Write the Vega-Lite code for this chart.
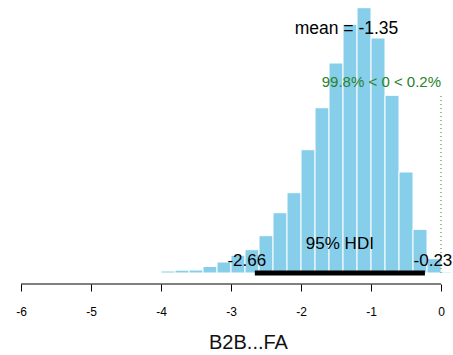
{
  "$schema": "https://vega.github.io/schema/vega-lite/v6.json",
  "width": 453,
  "height": 272,
  "padding": {"left": 0, "top": 1, "right": 0, "bottom": 0},
  "background": "white",
  "config": {
    "view": {"stroke": null},
    "font": "Liberation Sans",
    "text": {"font": "Liberation Sans"}
  },
  "datasets": {
    "hist": [
      {"b0": -4.0, "b1": -3.8, "dens": 0.0055},
      {"b0": -3.8, "b1": -3.6, "dens": 0.0077},
      {"b0": -3.6, "b1": -3.4, "dens": 0.0082},
      {"b0": -3.4, "b1": -3.2, "dens": 0.0178},
      {"b0": -3.2, "b1": -3.0, "dens": 0.0301},
      {"b0": -3.0, "b1": -2.8, "dens": 0.0484},
      {"b0": -2.8, "b1": -2.6, "dens": 0.0637},
      {"b0": -2.6, "b1": -2.4, "dens": 0.1020},
      {"b0": -2.4, "b1": -2.2, "dens": 0.1648},
      {"b0": -2.2, "b1": -2.0, "dens": 0.2195},
      {"b0": -2.0, "b1": -1.8, "dens": 0.3370},
      {"b0": -1.8, "b1": -1.6, "dens": 0.4518},
      {"b0": -1.6, "b1": -1.4, "dens": 0.5740},
      {"b0": -1.4, "b1": -1.2, "dens": 0.6798},
      {"b0": -1.2, "b1": -1.0, "dens": 0.7252},
      {"b0": -1.0, "b1": -0.8, "dens": 0.6423},
      {"b0": -0.8, "b1": -0.6, "dens": 0.4857},
      {"b0": -0.6, "b1": -0.4, "dens": 0.2761},
      {"b0": -0.4, "b1": -0.2, "dens": 0.1194},
      {"b0": -0.2, "b1": 0.0, "dens": 0.0391},
      {"b0": 0.0, "b1": 0.15, "dens": 0.0027}
    ],
    "hdi": [{"lo": -2.66, "hi": -0.23, "mid": -1.445, "y": 0, "loLabel": "-2.66", "hiLabel": "-0.23", "label": "95% HDI"}],
    "axisline": [{"from": -6, "to": 0, "y": -0.0301}],
    "comp": [{"x": 0, "y0": 0, "y1": 0.4873, "ty": 0.5076, "label": "99.8% < 0 < 0.2%"}],
    "mean": [{"x": -1.35, "y": 0.6527, "label": "mean = -1.35"}]
  },
  "layer": [
    {
      "data": {"name": "hist"},
      "mark": {"type": "rect", "fill": "#87CEEB", "stroke": "white", "strokeWidth": 1},
      "encoding": {
        "x": {
          "field": "b0", "type": "quantitative",
          "scale": {"domain": [-6.3, 0.171], "nice": false, "zero": false},
          "axis": {
            "values": [-6, -5, -4, -3, -2, -1, 0],
            "labelExpr": "'' + datum.value",
            "domain": false,
            "grid": false,
            "offset": 11,
            "tickSize": 7,
            "tickColor": "black",
            "tickWidth": 1,
            "labelFontSize": 12,
            "labelColor": "black",
            "labelPadding": 15,
            "labelFont": "Liberation Sans",
            "title": "B2B...FA",
            "titleFont": "Liberation Sans",
            "titleFontSize": 20,
            "titleFontWeight": "normal",
            "titleColor": "#111",
            "titleX": 248,
            "titleAlign": "center",
            "titlePadding": 15
          }
        },
        "x2": {"field": "b1"},
        "y": {
          "field": "dens", "type": "quantitative",
          "scale": {"domain": [0, 0.7435], "nice": false},
          "axis": null
        },
        "y2": {"datum": 0}
      }
    },
    {
      "data": {"name": "hdi"},
      "mark": {"type": "rule", "color": "black", "strokeWidth": 5, "strokeCap": "butt"},
      "encoding": {
        "x": {"field": "lo", "type": "quantitative"},
        "x2": {"field": "hi"},
        "y": {"field": "y", "type": "quantitative"}
      }
    },
    {
      "data": {"name": "axisline"},
      "mark": {"type": "rule", "color": "black", "strokeWidth": 1},
      "encoding": {
        "x": {"field": "from", "type": "quantitative"},
        "x2": {"field": "to"},
        "y": {"field": "y", "type": "quantitative"}
      }
    },
    {
      "data": {"name": "comp"},
      "mark": {"type": "rule", "color": "#2a812a", "strokeWidth": 1, "strokeDash": [1, 3]},
      "encoding": {
        "x": {"field": "x", "type": "quantitative"},
        "y": {"field": "y0", "type": "quantitative"},
        "y2": {"field": "y1"}
      }
    },
    {
      "data": {"name": "comp"},
      "mark": {"type": "text", "color": "#2a812a", "fontSize": 15, "align": "right", "baseline": "alphabetic", "font": "Liberation Sans"},
      "encoding": {
        "x": {"field": "x", "type": "quantitative"},
        "y": {"field": "ty", "type": "quantitative"},
        "text": {"field": "label"}
      }
    },
    {
      "data": {"name": "mean"},
      "mark": {"type": "text", "color": "black", "fontSize": 17.5, "align": "center", "baseline": "alphabetic", "font": "Liberation Sans"},
      "encoding": {
        "x": {"field": "x", "type": "quantitative"},
        "y": {"field": "y", "type": "quantitative"},
        "text": {"field": "label"}
      }
    },
    {
      "data": {"name": "hdi"},
      "mark": {"type": "text", "color": "black", "fontSize": 17, "align": "center", "baseline": "alphabetic", "dy": -24, "font": "Liberation Sans"},
      "encoding": {
        "x": {"field": "mid", "type": "quantitative"},
        "y": {"field": "y", "type": "quantitative"},
        "text": {"field": "label"}
      }
    },
    {
      "data": {"name": "hdi"},
      "mark": {"type": "text", "color": "black", "fontSize": 17, "align": "center", "baseline": "alphabetic", "dy": -7, "dx": -8, "font": "Liberation Sans"},
      "encoding": {
        "x": {"field": "lo", "type": "quantitative"},
        "y": {"field": "y", "type": "quantitative"},
        "text": {"field": "loLabel"}
      }
    },
    {
      "data": {"name": "hdi"},
      "mark": {"type": "text", "color": "black", "fontSize": 17, "align": "center", "baseline": "alphabetic", "dy": -7, "dx": 8, "font": "Liberation Sans"},
      "encoding": {
        "x": {"field": "hi", "type": "quantitative"},
        "y": {"field": "y", "type": "quantitative"},
        "text": {"field": "hiLabel"}
      }
    }
  ]
}
